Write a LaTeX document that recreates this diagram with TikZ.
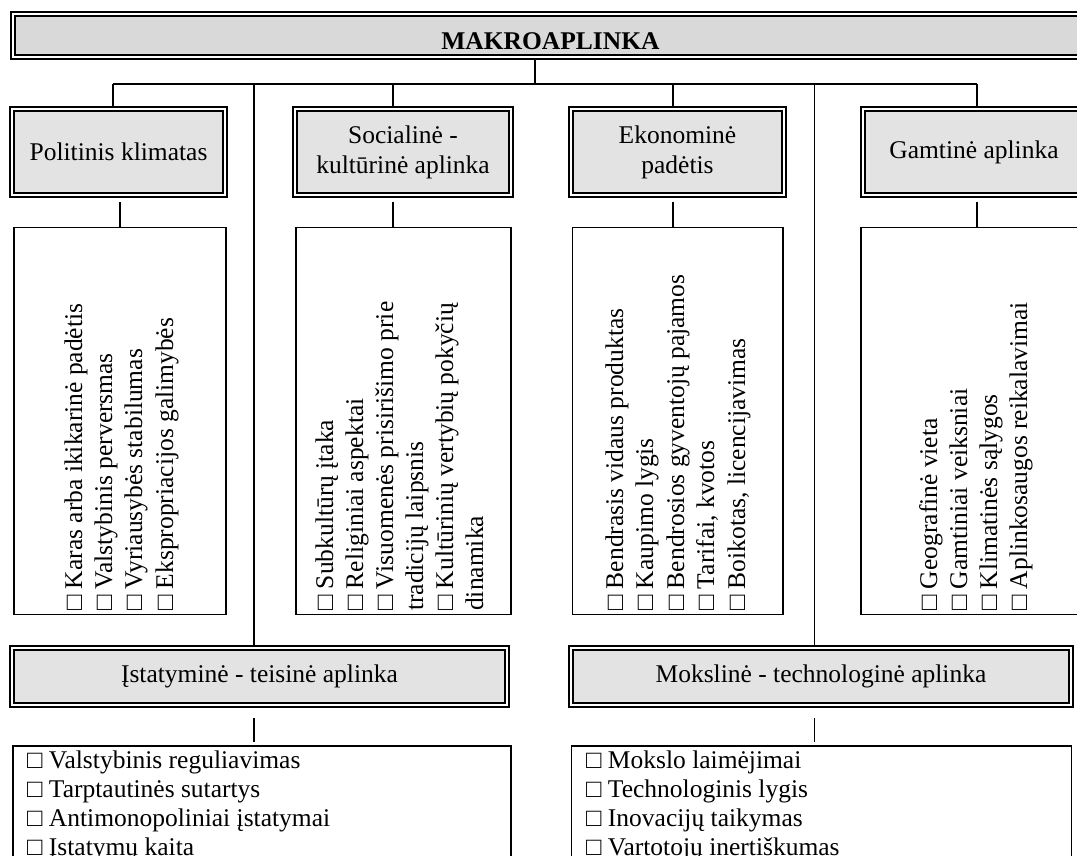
\documentclass[tikz,border=0pt]{standalone}
\usepackage{fontspec}
\setmainfont{Liberation Serif}
\usetikzlibrary{backgrounds,calc}
\definecolor{hdrgray}{HTML}{E3E3E3}
\definecolor{topgray}{HTML}{D9D9D9}
\begin{document}
\begin{tikzpicture}[x=1pt,y=-1pt,
  every node/.style={inner sep=0pt, font=\fontsize{25.5}{30}\selectfont},
  hdr/.style={draw, double, line width=2pt, double distance=1.6pt, fill=hdrgray, align=center},
  topbox/.style={draw, double, line width=2.4pt, double distance=1.8pt, fill=topgray},
  listbox/.style={draw, line width=1.8pt},
  conn/.style={line width=1.4pt},
  vitem/.style={rotate=90, anchor=base west},
  hitem/.style={anchor=base west}]
\useasboundingbox (0,0) rectangle (1077,856);
\clip (0,0) rectangle (1077,856);

% top box
\node[topbox, minimum width=1075pt, minimum height=43pt, text height=29pt, text depth=0pt,
      font=\bfseries\fontsize{25.5}{30}\selectfont] (mak) at (550.5,35.5) {MAKROAPLINKA};

% header boxes
\node[hdr, minimum width=213pt, minimum height=86pt] (pol) at (118.5,152) {Politinis klimatas};
\node[hdr, minimum width=216pt, minimum height=86pt] (soc) at (403,152) {Socialinė -\\kultūrinė aplinka};
\node[hdr, minimum width=213pt, minimum height=86pt] (eko) at (677.5,152) {Ekonominė\\padėtis};
\node[hdr, minimum width=222pt, minimum height=86pt] (gam) at (974,152) {Gamtinė aplinka};
\node[hdr, minimum width=495pt, minimum height=57pt] (ist) at (259.5,676.5) {Įstatyminė - teisinė aplinka};
\node[hdr, minimum width=500pt, minimum height=57pt] (mok) at (821,676.5) {Mokslinė - technologinė aplinka};

% list boxes
\node[listbox, minimum width=212pt, minimum height=387pt] (polL) at (120,421) {};
\node[listbox, minimum width=215pt, minimum height=387pt] (socL) at (403.5,421) {};
\node[listbox, minimum width=210.5pt, minimum height=387pt] (ekoL) at (677.75,421) {};
\node[listbox, minimum width=229pt, minimum height=387pt] (gamL) at (975.5,421) {};
\node[listbox, minimum width=498pt, minimum height=154pt] (istL) at (262,823) {};
\node[listbox, minimum width=500pt, minimum height=154pt] (mokL) at (821.5,823) {};

% rotated items
\node[vitem] (p1) at (82,611) {□ Karas arba ikikarinė padėtis};
\node[vitem] (p2) at (112,611) {□ Valstybinis perversmas};
\node[vitem] (p3) at (142,611) {□ Vyriausybės stabilumas};
\node[vitem] (p4) at (173,611) {□ Ekspropriacijos galimybės};

\node[vitem] (s1) at (333,611) {□ Subkultūrų įtaka};
\node[vitem] (s2) at (363,611) {□ Religiniai aspektai};
\node[vitem] (s3) at (393,611) {□ Visuomenės prisirišimo prie};
\node[vitem] (s3b) at (423,611) {tradicijų laipsnis};
\node[vitem] (s4) at (453,611) {□ Kultūrinių vertybių pokyčių};
\node[vitem] (s4b) at (483,611) {dinamika};

\node[vitem] (e1) at (623,611) {□ Bendrasis vidaus produktas};
\node[vitem] (e2) at (653,611) {□ Kaupimo lygis};
\node[vitem] (e3) at (684,611) {□ Bendrosios gyventojų pajamos};
\node[vitem] (e4) at (714,611) {□ Tarifai, kvotos};
\node[vitem] (e5) at (745,611) {□ Boikotas, licencijavimas};

\node[vitem] (g1) at (937,611) {□ Geografinė vieta};
\node[vitem] (g2) at (967,611) {□ Gamtiniai veiksniai};
\node[vitem] (g3) at (997,611) {□ Klimatinės sąlygos};
\node[vitem] (g4) at (1027,611) {□ Aplinkosaugos reikalavimai};

% horizontal items
\node[hitem] (i1) at (27,768) {□ Valstybinis reguliavimas};
\node[hitem] (i2) at (27,797) {□ Tarptautinės sutartys};
\node[hitem] (i3) at (27,826) {□ Antimonopoliniai įstatymai};
\node[hitem] (i4) at (27,855) {□ Įstatymų kaita};

\node[hitem] (m1) at (586,768) {□ Mokslo laimėjimai};
\node[hitem] (m2) at (586,797) {□ Technologinis lygis};
\node[hitem] (m3) at (586,826) {□ Inovacijų taikymas};
\node[hitem] (m4) at (586,855) {□ Vartotojų inertiškumas};

% junctions on the bus
\coordinate (j0) at (535,84);
\coordinate (h1) at (113,84);
\coordinate (h2) at (254,84);
\coordinate (h3) at (393,84);
\coordinate (h4) at (673,84);
\coordinate (h5) at (814.5,84);
\coordinate (h6) at (977,84);

\begin{scope}[on background layer]
\draw[conn] (mak.south -| j0) -- (j0);
\draw[conn] (h1) -- (h6);
\draw[conn] (h1) -- (pol.north -| h1);
\draw[conn] (h2) -- (ist.north -| h2);
\draw[conn] (h3) -- (soc.north -| h3);
\draw[conn] (h4) -- (eko.north -| h4);
\draw[conn] (h5) -- (mok.north -| h5);
\draw[conn] (h6) -- (gam.north -| h6);
\draw[conn] ($(pol.south -| polL.north)+(0,6)$) -- (polL.north);
\draw[conn] ($(soc.south -| h3)+(0,6)$) -- (socL.north -| h3);
\draw[conn] ($(eko.south -| h4)+(0,6)$) -- (ekoL.north -| h4);
\draw[conn] ($(gam.south -| h6)+(0,6)$) -- (gamL.north -| h6);
\draw[conn] ($(ist.south -| h2)+(0,12)$) -- ($(istL.north -| h2)+(0,-3)$);
\draw[conn] ($(mok.south -| h5)+(0,12)$) -- ($(mokL.north -| h5)+(0,-3)$);
\end{scope}
\end{tikzpicture}
\end{document}
